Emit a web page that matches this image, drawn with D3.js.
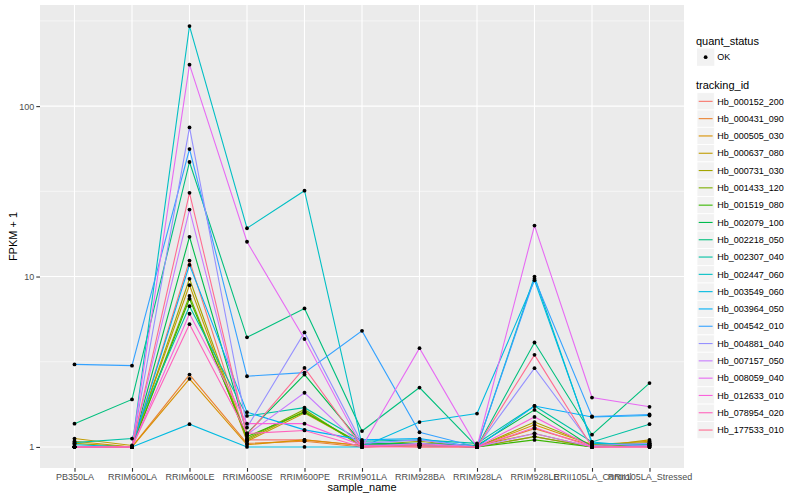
<!DOCTYPE html>
<html>
<head>
<meta charset="utf-8">
<script src="https://cdn.jsdelivr.net/npm/d3@7"></script>
<style>
	body { margin: 0; background: #fff; }
	text { font-family: "Liberation Sans", Arial, sans-serif; }
</style>
</head>
<body>
<div id="diagram"></div>
<script>
const samples = ["PB350LA", "RRIM600LA", "RRIM600LE", "RRIM600SE", "RRIM600PE", "RRIM901LA",
	"RRIM928BA", "RRIM928LA", "RRIM928LE", "RRII105LA_Control", "RRII105LA_Stressed"];

const trackingIds = ["Hb_000152_200", "Hb_000431_090", "Hb_000505_030", "Hb_000637_080", "Hb_000731_030",
	"Hb_001433_120", "Hb_001519_080", "Hb_002079_100", "Hb_002218_050", "Hb_002307_040",
	"Hb_002447_060", "Hb_003549_060", "Hb_003964_050", "Hb_004542_010", "Hb_004881_040",
	"Hb_007157_050", "Hb_008059_040", "Hb_012633_010", "Hb_078954_020", "Hb_177533_010"];

const colors = ["#F8766D", "#EA8331", "#D89000", "#C09B00", "#A3A500", "#7CAE00", "#39B600", "#00BB4E",
	"#00BF7D", "#00C1A3", "#00BFC4", "#00BAE0", "#00B0F6", "#35A2FF", "#9590FF", "#C77CFF",
	"#E76BF3", "#FA62DB", "#FF62BC", "#FF6C91"];

// FPKM + 1 per sample, same order as samples
const hb_000152_200 = [1.00, 1.00, 12.4, 1.10, 1.10, 1.02, 1.03, 1.00, 1.15, 1.00, 1.02];
const hb_000431_090 = [1.00, 1.00, 2.66, 1.05, 1.08, 1.00, 1.02, 1.00, 1.28, 1.02, 1.05];
const hb_000505_030 = [1.08, 1.00, 2.51, 1.03, 1.10, 1.02, 1.00, 1.00, 1.35, 1.03, 1.08];
const hb_000637_080 = [1.12, 1.02, 8.9, 1.08, 1.58, 1.03, 1.05, 1.02, 1.20, 1.00, 1.10];
const hb_000731_030 = [1.05, 1.00, 9.7, 1.10, 1.62, 1.02, 1.08, 1.00, 1.40, 1.03, 1.06];
const hb_001433_120 = [1.00, 1.00, 7.7, 1.12, 1.66, 1.00, 1.03, 1.00, 1.15, 1.00, 1.04];
const hb_001519_080 = [1.00, 1.00, 7.4, 1.15, 1.60, 1.04, 1.02, 1.00, 1.10, 1.00, 1.03];
const hb_002079_100 = [1.00, 1.00, 17.1, 1.20, 2.66, 1.05, 1.05, 1.02, 1.65, 1.00, 1.02];
const hb_002218_050 = [1.37, 1.90, 47, 4.4, 6.5, 1.24, 2.23, 1.00, 4.1, 1.18, 2.37];
const hb_002307_040 = [1.06, 1.12, 6.7, 1.52, 1.70, 1.08, 1.10, 1.05, 1.74, 1.07, 1.36];
const hb_002447_060 = [1.00, 1.00, 295, 19.2, 31.9, 1.03, 1.02, 1.00, 10.0, 1.05, 1.03];
const hb_003549_060 = [1.03, 1.00, 1.36, 1.00, 1.00, 1.00, 1.40, 1.57, 9.5, 1.07, 1.00];
const hb_003964_050 = [1.00, 1.00, 11.7, 1.60, 1.26, 1.10, 1.12, 1.00, 1.74, 1.50, 1.53];
const hb_004542_010 = [3.05, 3.00, 56, 2.60, 2.73, 4.8, 1.22, 1.00, 9.7, 1.51, 1.55];
const hb_004881_040 = [1.00, 1.00, 75, 1.30, 4.7, 1.05, 1.10, 1.00, 2.9, 1.02, 1.05];
const hb_007157_050 = [1.00, 1.00, 24.7, 1.18, 2.08, 1.00, 1.05, 1.00, 1.20, 1.00, 1.02];
const hb_008059_040 = [1.00, 1.00, 175, 16.0, 4.3, 1.00, 3.8, 1.00, 19.9, 1.95, 1.72];
const hb_012633_010 = [1.00, 1.00, 6.05, 1.37, 1.37, 1.02, 1.03, 1.00, 1.50, 1.00, 1.00];
const hb_078954_020 = [1.00, 1.00, 5.25, 1.20, 1.25, 1.00, 1.00, 1.00, 1.30, 1.00, 1.00];
const hb_177533_010 = [1.00, 1.00, 31, 1.18, 2.91, 1.00, 1.02, 1.00, 3.47, 1.00, 1.00];

const seriesValues = [hb_000152_200, hb_000431_090, hb_000505_030, hb_000637_080, hb_000731_030,
	hb_001433_120, hb_001519_080, hb_002079_100, hb_002218_050, hb_002307_040,
	hb_002447_060, hb_003549_060, hb_003964_050, hb_004542_010, hb_004881_040,
	hb_007157_050, hb_008059_040, hb_012633_010, hb_078954_020, hb_177533_010];

const yTicks = [1, 10, 100];
const yMinor = [Math.sqrt(10), Math.sqrt(1000), Math.sqrt(100000)];
const quantStatus = ["OK"];

function lineplot() {
	const width = 800, height = 500;
	const panel = {left: 40, right: 684, top: 5, bottom: 468};

	const series = trackingIds.map((id, i) => ({
		id: id,
		color: colors[i],
		points: samples.map((s, j) => ({sample: s, value: seriesValues[i][j]}))
	}));

	const xScale = d3.scalePoint()
		.domain(samples)
		.range([panel.left, panel.right])
		.padding(0.6);

	// ggplot-like 5% expansion in log space
	const allValues = seriesValues.flat();
	const lo = Math.log10(d3.min(allValues)), hi = Math.log10(d3.max(allValues));
	const pad = (hi - lo) * 0.05;
	const yScale = d3.scaleLog()
		.domain([Math.pow(10, lo - pad), Math.pow(10, hi + pad)])
		.range([panel.bottom, panel.top]);

	const svg = d3.select("#diagram")
		.append("svg")
		.attr("width", width)
		.attr("height", height);

	svg.append("rect")
		.attr("x", panel.left).attr("y", panel.top)
		.attr("width", panel.right - panel.left)
		.attr("height", panel.bottom - panel.top)
		.attr("fill", "#EBEBEB");

	const grid = svg.append("g");
	grid.selectAll("line.minor")
		.data(yMinor)
		.enter().append("line")
		.attr("x1", panel.left).attr("x2", panel.right)
		.attr("y1", d => yScale(d)).attr("y2", d => yScale(d))
		.attr("stroke", "#fff").attr("stroke-width", 0.55);
	grid.selectAll("line.major")
		.data(yTicks)
		.enter().append("line")
		.attr("x1", panel.left).attr("x2", panel.right)
		.attr("y1", d => yScale(d)).attr("y2", d => yScale(d))
		.attr("stroke", "#fff").attr("stroke-width", 1.1);
	grid.selectAll("line.vert")
		.data(samples)
		.enter().append("line")
		.attr("x1", d => xScale(d)).attr("x2", d => xScale(d))
		.attr("y1", panel.top).attr("y2", panel.bottom)
		.attr("stroke", "#fff").attr("stroke-width", 1.1);

	const line = d3.line()
		.x(d => xScale(d.sample))
		.y(d => yScale(d.value));

	svg.append("g").selectAll("path")
		.data(series)
		.enter().append("path")
		.attr("d", d => line(d.points))
		.attr("fill", "none")
		.attr("stroke", d => d.color)
		.attr("stroke-width", 1.1);

	svg.append("g").selectAll("circle")
		.data(series.flatMap(d => d.points))
		.enter().append("circle")
		.attr("cx", d => xScale(d.sample))
		.attr("cy", d => yScale(d.value))
		.attr("r", 1.9)
		.attr("fill", "#000");

	// axes
	const yAxis = svg.append("g")
		.attr("transform", `translate(${panel.left},0)`)
		.call(d3.axisLeft(yScale).tickValues(yTicks).tickFormat(d3.format("d")).tickSize(3.7).tickPadding(2));
	const xAxis = svg.append("g")
		.attr("transform", `translate(0,${panel.bottom})`)
		.call(d3.axisBottom(xScale).tickSize(3.7).tickPadding(2));
	[yAxis, xAxis].forEach(a => {
		a.select(".domain").remove();
		a.selectAll(".tick line").attr("stroke", "#333").attr("stroke-width", 1.1);
		a.selectAll(".tick text")
			.attr("fill", "#4D4D4D")
			.attr("font-size", "9px")
			.attr("font-family", "Liberation Sans, Arial, sans-serif");
	});

	svg.append("text")
		.text("sample_name")
		.attr("x", (panel.left + panel.right) / 2)
		.attr("y", 491)
		.attr("text-anchor", "middle")
		.attr("font-size", "11px");

	svg.append("text")
		.text("FPKM + 1")
		.attr("transform", `translate(17,${(panel.top + panel.bottom) / 2}) rotate(-90)`)
		.attr("text-anchor", "middle")
		.attr("font-size", "11px");

	// legends
	const lx = 696, keySize = 17.3;
	svg.append("text").text("quant_status")
		.attr("x", lx).attr("y", 45).attr("font-size", "11px");
	const ok = svg.append("g").selectAll("g")
		.data(quantStatus)
		.enter().append("g")
		.attr("transform", (d, i) => `translate(${lx + 1},${48.5 + i * keySize})`);
	ok.append("rect").attr("width", keySize).attr("height", keySize).attr("fill", "#F2F2F2");
	ok.append("circle").attr("cx", keySize / 2).attr("cy", keySize / 2).attr("r", 1.9).attr("fill", "#000");
	ok.append("text").text(d => d)
		.attr("x", keySize + 3).attr("y", keySize / 2 + 3.2).attr("font-size", "9px");

	svg.append("text").text("tracking_id")
		.attr("x", lx).attr("y", 89).attr("font-size", "11px");
	const keys = svg.append("g").selectAll("g")
		.data(series)
		.enter().append("g")
		.attr("transform", (d, i) => `translate(${lx + 1},${92.7 + i * keySize})`);
	keys.append("rect")
		.attr("width", keySize).attr("height", keySize)
		.attr("fill", "#F2F2F2").attr("stroke", "#fff").attr("stroke-width", 0.8);
	keys.append("line")
		.attr("x1", 1.7).attr("x2", keySize - 1.7)
		.attr("y1", keySize / 2).attr("y2", keySize / 2)
		.attr("stroke", d => d.color).attr("stroke-width", 1.1);
	keys.append("text").text(d => d.id)
		.attr("x", keySize + 3).attr("y", keySize / 2 + 3.2).attr("font-size", "9px");
}

lineplot();
</script>
</body>
</html>
